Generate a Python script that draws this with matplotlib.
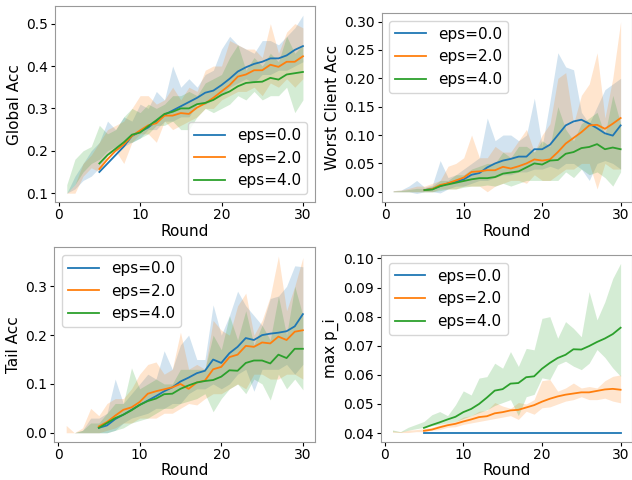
import numpy as np
import matplotlib
matplotlib.use("Agg")
import matplotlib.pyplot as plt
from matplotlib.ticker import MultipleLocator

#%% data
rounds = np.arange(1, 31)          # rounds for the shaded band
rounds_ma = np.arange(5, 31)       # rounds for the smoothed line
eps_labels = ["eps=0.0", "eps=2.0", "eps=4.0"]

# Global Acc
glob_line = [
    [0.150, 0.170, 0.190, 0.210, 0.235, 0.245, 0.255, 0.270, 0.285, 0.295, 0.305, 0.315, 0.325,
     0.337, 0.342, 0.355, 0.370, 0.387, 0.397, 0.405, 0.410, 0.418, 0.418, 0.425, 0.438, 0.447],
    [0.157, 0.180, 0.200, 0.215, 0.235, 0.248, 0.260, 0.265, 0.283, 0.283, 0.289, 0.287, 0.302,
     0.312, 0.325, 0.340, 0.355, 0.375, 0.380, 0.390, 0.390, 0.403, 0.398, 0.410, 0.410, 0.423],
    [0.170, 0.190, 0.205, 0.220, 0.238, 0.243, 0.258, 0.272, 0.287, 0.292, 0.300, 0.300, 0.310,
     0.313, 0.320, 0.332, 0.340, 0.352, 0.360, 0.362, 0.363, 0.372, 0.368, 0.380, 0.383, 0.386],
]
glob_hi = [
    [0.10, 0.14, 0.17, 0.20, 0.22, 0.27, 0.25, 0.28, 0.27, 0.31, 0.30, 0.34, 0.32, 0.40, 0.35,
     0.37, 0.35, 0.38, 0.39, 0.44, 0.47, 0.45, 0.44, 0.43, 0.46, 0.46, 0.45, 0.47, 0.49, 0.52],
    [0.10, 0.12, 0.17, 0.19, 0.22, 0.25, 0.26, 0.27, 0.30, 0.33, 0.33, 0.31, 0.32, 0.35, 0.32,
     0.35, 0.34, 0.39, 0.40, 0.40, 0.46, 0.45, 0.44, 0.44, 0.42, 0.50, 0.43, 0.48, 0.50, 0.49],
    [0.12, 0.18, 0.20, 0.21, 0.26, 0.24, 0.25, 0.28, 0.30, 0.29, 0.31, 0.30, 0.31, 0.33, 0.33,
     0.34, 0.33, 0.36, 0.37, 0.38, 0.42, 0.45, 0.39, 0.42, 0.40, 0.43, 0.41, 0.47, 0.43, 0.45],
]
glob_lo = [
    [0.10, 0.11, 0.13, 0.14, 0.16, 0.19, 0.20, 0.21, 0.22, 0.23, 0.25, 0.25, 0.27, 0.27, 0.28,
     0.28, 0.31, 0.31, 0.32, 0.33, 0.35, 0.36, 0.37, 0.36, 0.38, 0.38, 0.39, 0.39, 0.40, 0.41],
    [0.10, 0.10, 0.14, 0.16, 0.15, 0.19, 0.20, 0.17, 0.22, 0.24, 0.24, 0.22, 0.27, 0.25, 0.26,
     0.27, 0.28, 0.30, 0.30, 0.32, 0.33, 0.34, 0.34, 0.35, 0.33, 0.36, 0.35, 0.37, 0.35, 0.37],
    [0.10, 0.12, 0.15, 0.17, 0.18, 0.20, 0.21, 0.22, 0.22, 0.23, 0.24, 0.26, 0.26, 0.27, 0.25,
     0.25, 0.28, 0.30, 0.29, 0.30, 0.31, 0.33, 0.32, 0.34, 0.32, 0.33, 0.33, 0.35, 0.29, 0.32],
]

# Worst Client Acc
worst_line = [
    [0.003, 0.005, 0.010, 0.015, 0.018, 0.022, 0.030, 0.033, 0.043, 0.050, 0.055, 0.058, 0.062,
     0.062, 0.075, 0.075, 0.083, 0.100, 0.117, 0.124, 0.127, 0.120, 0.112, 0.103, 0.099, 0.117],
    [0.003, 0.005, 0.012, 0.015, 0.020, 0.025, 0.035, 0.036, 0.038, 0.038, 0.044, 0.041, 0.045,
     0.050, 0.057, 0.055, 0.057, 0.070, 0.085, 0.095, 0.105, 0.117, 0.118, 0.111, 0.120, 0.130],
    [0.003, 0.004, 0.010, 0.013, 0.016, 0.019, 0.022, 0.024, 0.024, 0.026, 0.032, 0.034, 0.036,
     0.043, 0.050, 0.048, 0.055, 0.056, 0.067, 0.070, 0.077, 0.079, 0.084, 0.075, 0.078, 0.075],
]
worst_hi = [
    [0.002, 0.003, 0.010, 0.020, 0.008, 0.012, 0.055, 0.025, 0.030, 0.040, 0.050, 0.060, 0.130,
     0.090, 0.100, 0.100, 0.090, 0.100, 0.165, 0.080, 0.160, 0.245, 0.220, 0.215, 0.140, 0.120,
     0.150, 0.180, 0.190, 0.200],
    [0.002, 0.003, 0.006, 0.010, 0.010, 0.015, 0.020, 0.045, 0.050, 0.060, 0.100, 0.060, 0.060,
     0.080, 0.070, 0.070, 0.090, 0.110, 0.070, 0.100, 0.120, 0.200, 0.210, 0.120, 0.170, 0.190,
     0.245, 0.130, 0.200, 0.300],
    [0.001, 0.002, 0.004, 0.006, 0.006, 0.010, 0.020, 0.020, 0.030, 0.030, 0.040, 0.045, 0.050,
     0.050, 0.070, 0.060, 0.080, 0.080, 0.070, 0.090, 0.080, 0.150, 0.110, 0.090, 0.120, 0.130,
     0.140, 0.100, 0.170, 0.120],
]
worst_lo = [
    [0.000, 0.000, 0.000, -0.003, 0.000, 0.000, -0.002, 0.005, 0.010, 0.010, 0.015, 0.020, 0.020,
     0.025, 0.030, 0.030, 0.035, 0.035, 0.040, 0.040, 0.045, 0.040, 0.050, 0.050, 0.040, 0.020,
     0.050, 0.055, 0.050, 0.040],
    [0.000, 0.000, 0.000, 0.000, 0.000, 0.000, 0.005, 0.005, 0.005, 0.010, 0.010, 0.010, 0.000,
     0.010, 0.015, 0.020, 0.020, 0.015, 0.030, 0.020, 0.020, 0.030, 0.040, 0.040, 0.050, 0.050,
     0.005, 0.050, 0.040, 0.040],
    [0.000, 0.000, 0.000, 0.000, 0.000, 0.000, 0.002, 0.005, 0.005, 0.008, 0.010, 0.010, 0.012,
     0.010, 0.015, 0.010, 0.015, 0.020, 0.020, 0.020, 0.020, 0.020, 0.035, 0.025, 0.040, 0.030,
     0.035, 0.025, 0.010, 0.035],
]

# Tail Acc
tail_line = [
    [0.010, 0.015, 0.028, 0.037, 0.047, 0.057, 0.066, 0.075, 0.085, 0.093, 0.105, 0.113, 0.122,
     0.127, 0.150, 0.143, 0.163, 0.176, 0.194, 0.190, 0.200, 0.203, 0.205, 0.208, 0.218, 0.243],
    [0.013, 0.022, 0.035, 0.047, 0.052, 0.063, 0.080, 0.085, 0.089, 0.093, 0.100, 0.090, 0.103,
     0.107, 0.130, 0.135, 0.155, 0.160, 0.178, 0.176, 0.185, 0.183, 0.197, 0.190, 0.207, 0.210],
    [0.010, 0.020, 0.030, 0.037, 0.046, 0.057, 0.065, 0.070, 0.079, 0.080, 0.090, 0.097, 0.103,
     0.106, 0.108, 0.115, 0.128, 0.127, 0.143, 0.148, 0.148, 0.142, 0.160, 0.153, 0.172, 0.172],
]
tail_hi = [
    [0.000, 0.000, 0.005, 0.030, 0.030, 0.040, 0.110, 0.060, 0.080, 0.100, 0.120, 0.110, 0.168,
     0.130, 0.180, 0.200, 0.150, 0.150, 0.262, 0.200, 0.240, 0.290, 0.260, 0.240, 0.220, 0.275,
     0.280, 0.300, 0.342, 0.340],
    [0.015, 0.000, 0.010, 0.050, 0.035, 0.060, 0.070, 0.070, 0.090, 0.120, 0.140, 0.145, 0.120,
     0.130, 0.206, 0.130, 0.140, 0.130, 0.230, 0.210, 0.200, 0.260, 0.286, 0.200, 0.230, 0.279,
     0.362, 0.250, 0.300, 0.359],
    [0.000, 0.000, 0.005, 0.020, 0.020, 0.040, 0.060, 0.060, 0.133, 0.090, 0.100, 0.110, 0.100,
     0.100, 0.130, 0.130, 0.130, 0.130, 0.200, 0.170, 0.240, 0.190, 0.250, 0.180, 0.220, 0.190,
     0.280, 0.200, 0.300, 0.240],
]
tail_lo = [
    [0.000, 0.000, 0.000, 0.000, 0.000, 0.000, 0.005, 0.020, 0.030, 0.035, 0.040, 0.050, 0.050,
     0.060, 0.060, 0.080, 0.090, 0.090, 0.100, 0.090, 0.100, 0.120, 0.130, 0.085, 0.130, 0.130,
     0.130, 0.140, 0.120, 0.140],
    [0.000, 0.000, 0.000, 0.000, 0.000, 0.005, 0.010, 0.020, 0.020, 0.030, 0.030, 0.030, 0.040,
     0.040, 0.050, 0.060, 0.057, 0.070, 0.080, 0.080, 0.090, 0.100, 0.090, 0.120, 0.120, 0.110,
     0.110, 0.120, 0.120, 0.110],
    [0.000, 0.000, 0.000, 0.000, 0.000, 0.000, 0.005, 0.010, 0.020, 0.025, 0.030, 0.040, 0.050,
     0.050, 0.060, 0.065, 0.070, 0.080, 0.043, 0.070, 0.090, 0.100, 0.080, 0.110, 0.100, 0.067,
     0.120, 0.090, 0.110, 0.088],
]

# max p_i
maxp_line = [
    [0.040] * 26,
    [0.0408, 0.0412, 0.0420, 0.0427, 0.0432, 0.0440, 0.0447, 0.0455, 0.0458, 0.0468, 0.0472,
     0.0478, 0.0480, 0.0488, 0.0496, 0.0508, 0.0518, 0.0526, 0.0532, 0.0536, 0.0540, 0.0540,
     0.0545, 0.0550, 0.0552, 0.0549],
    [0.0418, 0.0428, 0.0437, 0.0447, 0.0456, 0.0472, 0.0483, 0.0500, 0.0522, 0.0546, 0.0551,
     0.0570, 0.0572, 0.0592, 0.0595, 0.0621, 0.0641, 0.0658, 0.0669, 0.0688, 0.0687, 0.0699,
     0.0713, 0.0725, 0.0740, 0.0762],
]
maxp_hi = [
    [0.040] * 30,
    [0.0408, 0.0405, 0.0410, 0.0412, 0.0415, 0.0420, 0.0428, 0.0435, 0.0440, 0.0455, 0.0460,
     0.0475, 0.0478, 0.0505, 0.0493, 0.0485, 0.0505, 0.0500, 0.0515, 0.0580, 0.0584, 0.0544,
     0.0555, 0.0572, 0.0555, 0.0560, 0.0555, 0.0580, 0.0595, 0.0600],
    [0.0411, 0.0405, 0.0420, 0.0430, 0.0440, 0.0463, 0.0474, 0.0460, 0.0497, 0.0545, 0.0531,
     0.0589, 0.0594, 0.0640, 0.0623, 0.0680, 0.0629, 0.0691, 0.0686, 0.0794, 0.0800, 0.0726,
     0.0783, 0.0760, 0.0731, 0.0886, 0.0789, 0.0851, 0.0931, 0.0983],
]
maxp_lo = [
    [0.040] * 30,
    [0.0403, 0.0402, 0.0402, 0.0405, 0.0405, 0.0410, 0.0412, 0.0420, 0.0422, 0.0430, 0.0435,
     0.0440, 0.0445, 0.0450, 0.0455, 0.0460, 0.0447, 0.0475, 0.0465, 0.0487, 0.0490, 0.0500,
     0.0510, 0.0515, 0.0525, 0.0515, 0.0515, 0.0520, 0.0510, 0.0504],
    [0.0405, 0.0403, 0.0410, 0.0415, 0.0420, 0.0425, 0.0430, 0.0435, 0.0440, 0.0450, 0.0460,
     0.0470, 0.0480, 0.0495, 0.0505, 0.0515, 0.0460, 0.0525, 0.0533, 0.0590, 0.0584, 0.0635,
     0.0647, 0.0630, 0.0618, 0.0640, 0.0687, 0.0660, 0.0624, 0.0595],
]

#%% figure
plt.rcParams['font.size'] = 11
plt.rcParams['xtick.labelsize'] = 10
plt.rcParams['ytick.labelsize'] = 10
plt.rcParams['xtick.major.size'] = 3
plt.rcParams['ytick.major.size'] = 3
plt.rcParams['xtick.major.pad'] = 1.5
plt.rcParams['ytick.major.pad'] = 2
fig = plt.figure(figsize=(6.32, 4.8), dpi=100)

panels = [
    ("Global Acc", glob_line, glob_lo, glob_hi, "lower right", 0.1, [0.087, 0.579, 0.411, 0.408]),
    ("Worst Client Acc", worst_line, worst_lo, worst_hi, "upper left", 0.05, [0.604, 0.579, 0.396, 0.394]),
    ("Tail Acc", tail_line, tail_lo, tail_hi, "upper left", 0.1, [0.086, 0.080, 0.412, 0.405]),
    ("max p_i", maxp_line, maxp_lo, maxp_hi, "upper left", 0.01, [0.603, 0.080, 0.397, 0.389]),
]

for ylabel, lines, los, his, loc, step, pos in panels:
    ax = fig.add_axes(pos)
    for i in range(3):
        color = "C%d" % i
        ax.plot(rounds_ma, lines[i], color=color, lw=1.3, label=eps_labels[i])
        ax.fill_between(rounds, los[i], his[i], color=color, alpha=0.2, lw=0)
    ax.yaxis.set_major_locator(MultipleLocator(step))
    if step < 0.1:
        ax.yaxis.set_major_formatter(lambda v, p: "%.2f" % v)
    ax.set_xlabel("Round", labelpad=1)
    ax.set_ylabel(ylabel, labelpad=3)
    ax.legend(loc=loc)
    for s in ax.spines.values():
        s.set_color("#999999")

fig.savefig("out.png", dpi=100)
